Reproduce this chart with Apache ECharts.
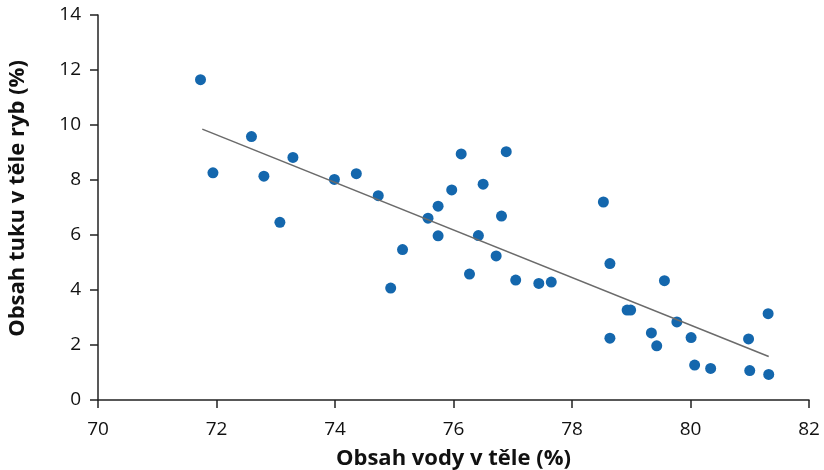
<!DOCTYPE html>
<html>
<head>
<meta charset="utf-8">
<script src="https://cdn.jsdelivr.net/npm/echarts@6/dist/echarts.min.js"></script>
<style>
  html, body { margin: 0; padding: 0; background: #fff; }
  #chart { width: 824px; height: 470px; }
</style>
</head>
<body>
<div id="chart"></div>
<script>
  // obsah vody (x) a obsah tuku (y)
  let water = [71.73, 72.59, 71.94, 72.80, 73.29, 73.99, 74.36, 74.73, 73.07, 75.14,
    74.94, 76.13, 76.89, 75.97, 76.50, 75.74, 75.57, 76.81, 75.74, 76.42,
    76.72, 76.27, 77.05, 77.44, 77.65, 78.53, 78.64, 79.56, 78.93, 78.99,
    79.77, 81.31, 78.64, 79.34, 79.43, 80.01, 80.98, 80.07, 80.34, 81.00, 81.32];
  let fat = [11.65, 9.58, 8.26, 8.14, 8.82, 8.02, 8.23, 7.43, 6.46, 5.47,
    4.07, 8.95, 9.03, 7.64, 7.85, 7.05, 6.61, 6.69, 5.97, 5.98,
    5.24, 4.58, 4.36, 4.24, 4.29, 7.20, 4.96, 4.34, 3.27, 3.27,
    2.84, 3.14, 2.25, 2.44, 1.97, 2.27, 2.22, 1.27, 1.15, 1.07, 0.93];
  // regresní přímka
  let trendX = [71.76, 81.32];
  let trendY = [9.85, 1.58];

  var myChart = echarts.init(document.getElementById('chart'));
  var font = 'Open Sans';

  var points = [];
  for (let i = 0; i < water.length; i++) {
    points.push([water[i], fat[i]]);
  }
  var trend = [];
  for (let i = 0; i < trendX.length; i++) {
    trend.push([trendX[i], trendY[i]]);
  }

  var option = {
    animation: false,
    grid: { left: 98, right: 15, top: 15, bottom: 70, outerBoundsMode: 'none', containLabel: false },
    xAxis: {
      type: 'value',
      min: 70,
      max: 82,
      interval: 2,
      name: 'Obsah vody v těle (%)',
      nameLocation: 'middle',
      nameGap: 48,
      nameTextStyle: { fontFamily: font, fontWeight: 'bold', fontSize: 22, color: '#111' },
      axisLine: { lineStyle: { color: '#222', width: 1.5 } },
      axisTick: { show: true, length: 8, lineStyle: { color: '#222', width: 1.5 } },
      axisLabel: { fontFamily: font, fontSize: 19, color: '#111', margin: 20 },
      splitLine: { show: false }
    },
    yAxis: {
      type: 'value',
      min: 0,
      max: 14,
      interval: 2,
      name: 'Obsah tuku v těle ryb (%)',
      nameLocation: 'middle',
      nameGap: 69,
      nameTextStyle: { fontFamily: font, fontWeight: 'bold', fontSize: 22, color: '#111', padding: [0, 0, 0, 18] },
      axisLine: { show: true, lineStyle: { color: '#222', width: 1.5 } },
      axisTick: { show: true, length: 8, lineStyle: { color: '#222', width: 1.5 } },
      axisLabel: { fontFamily: font, fontSize: 19, color: '#111', margin: 17 },
      splitLine: { show: false }
    },
    series: [
      {
        name: 'trend',
        type: 'line',
        data: trend,
        symbol: 'none',
        lineStyle: { color: '#6b6b6b', width: 1.6 },
        z: 3
      },
      {
        name: 'ryby',
        type: 'scatter',
        data: points,
        symbolSize: 11,
        itemStyle: { color: '#1467ad', opacity: 1 },
        z: 2
      }
    ]
  };

  myChart.setOption(option);
  window.addEventListener('resize', function () {
    myChart.resize();
  });
</script>
</body>
</html>
